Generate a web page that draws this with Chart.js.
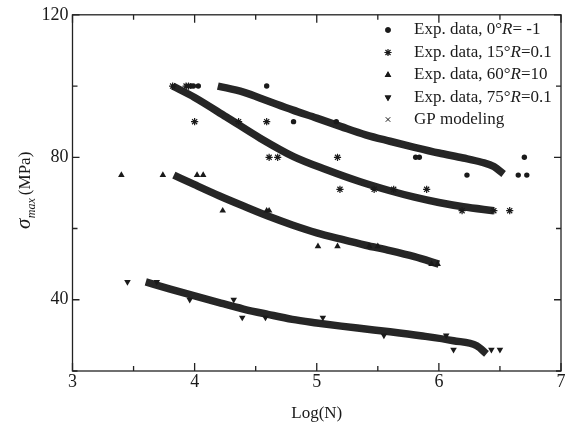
<!DOCTYPE html>
<html>
<head>
<meta charset="utf-8">
<script src="https://cdn.jsdelivr.net/npm/chart.js@4.4.0/dist/chart.umd.min.js"></script>
<style>
  html, body { margin: 0; padding: 0; background: #fff; }
</style>
</head>
<body>
<canvas id="fatigue" width="568" height="431"></canvas>
<script>
const exp0X = [3.97, 3.99, 4.03, 4.59, 4.81, 5.16, 5.81, 5.84, 6.23, 6.65, 6.70, 6.72];
const exp0Y = [100, 100, 100, 100, 90, 90, 80, 80, 75, 75, 80, 75];
const exp15X = [3.82, 3.93, 3.95, 4.00, 4.36, 4.59, 4.61, 4.68, 5.17, 5.19, 5.47, 5.63, 5.90, 6.19, 6.45, 6.58];
const exp15Y = [100, 100, 100, 90, 90, 90, 80, 80, 80, 71, 71, 71, 71, 65, 65, 65];
const exp60X = [3.40, 3.74, 4.02, 4.07, 4.23, 4.59, 4.61, 5.01, 5.17, 5.43, 5.50, 5.94, 5.99];
const exp60Y = [75, 75, 75, 75, 65, 65, 65, 55, 55, 55, 55, 50, 50];
const exp75X = [3.45, 3.69, 3.96, 4.32, 4.39, 4.58, 5.05, 5.55, 6.06, 6.12, 6.43, 6.50];
const exp75Y = [45, 45, 40, 40, 35, 35, 35, 30, 30, 26, 26, 26];

// GP modeling curves
const gp0X = [4.19, 4.4, 4.6, 4.8, 5.0, 5.2, 5.4, 5.6, 5.8, 6.0, 6.2, 6.35, 6.45, 6.53];
const gp0Y = [100, 98.3, 95.8, 93.3, 91, 88.6, 86.3, 84.5, 82.8, 81.2, 79.8, 78.6, 77.4, 75.3];
const gp15X = [3.82, 4.0, 4.26, 4.54, 4.81, 5.08, 5.35, 5.6, 5.8, 6.0, 6.2, 6.45];
const gp15Y = [100, 96.8, 91.3, 85.3, 80.2, 76.5, 73.2, 70.6, 68.8, 67.3, 66.1, 65];
const gp60X = [3.83, 4.0, 4.2, 4.4, 4.6, 4.8, 5.0, 5.2, 5.4, 5.6, 5.8, 6.0];
const gp60Y = [75, 72.3, 69.2, 66.3, 63.5, 61, 58.8, 57, 55.3, 53.8, 52.1, 50];
const gp75X = [3.6, 3.8, 4.0, 4.2, 4.4, 4.6, 4.8, 5.0, 5.2, 5.4, 5.6, 5.85, 6.12, 6.31, 6.39];
const gp75Y = [45, 43, 41.1, 39.2, 37.4, 35.9, 34.5, 33.5, 32.6, 31.8, 31, 29.9, 28.5, 27.1, 24.8];

const legendLabels = ['Exp. data, 0°R= -1', 'Exp. data, 15°R=0.1', 'Exp. data, 60°R=10', 'Exp. data, 75°R=0.1', 'GP modeling'];
const xTickLabels = [3, 4, 5, 6, 7];
const yTickLabels = [40, 80, 120];

const serif = '"Liberation Serif", "Times New Roman", serif';
const ink = '#1a1a1a';

function pts(xs, ys) {
    return xs.map((x, i) => ({ x: x, y: ys[i] }));
}

function expSet(label, xs, ys, style, rot, r) {
    return {
        label: label,
        data: pts(xs, ys),
        showLine: false,
        pointStyle: style,
        pointRotation: rot,
        pointRadius: r,
        backgroundColor: ink,
        borderColor: ink,
        borderWidth: style === 'star' ? 1.2 : 0
    };
}

function gpSet(xs, ys) {
    return {
        label: 'GP modeling',
        data: pts(xs, ys),
        showLine: true,
        borderColor: '#262626',
        borderWidth: 7.5,
        pointRadius: 0,
        cubicInterpolationMode: 'monotone',
        fill: false
    };
}

const legendMarks = [
    { pointStyle: 'circle', radius: 2.7, rotation: 0, borderWidth: 0 },
    { pointStyle: 'star', radius: 3.6, rotation: 0, borderWidth: 1.2 },
    { pointStyle: 'triangle', radius: 3.8, rotation: 0, borderWidth: 0 },
    { pointStyle: 'triangle', radius: 3.8, rotation: 180, borderWidth: 0 },
    { pointStyle: 'crossRot', radius: 3.2, rotation: 0, borderWidth: 1 }
];

const framePlugin = {
    id: 'frame',
    afterDraw(chart) {
        const ctx = chart.ctx;
        const a = chart.chartArea;
        const xs = chart.scales.x, ys = chart.scales.y;
        ctx.save();
        ctx.strokeStyle = '#222';
        ctx.lineWidth = 1.3;
        ctx.strokeRect(a.left, a.top, a.right - a.left, a.bottom - a.top);
        ctx.beginPath();
        xs.ticks.forEach(t => {
            const px = xs.getPixelForValue(t.value);
            const len = xTickLabels.includes(t.value) ? 8 : 5;
            ctx.moveTo(px, a.bottom); ctx.lineTo(px, a.bottom - len);
            ctx.moveTo(px, a.top); ctx.lineTo(px, a.top + len);
        });
        ys.ticks.forEach(t => {
            const py = ys.getPixelForValue(t.value);
            const len = yTickLabels.includes(t.value) ? 7 : 5;
            ctx.moveTo(a.left, py); ctx.lineTo(a.left + len, py);
            ctx.moveTo(a.right, py); ctx.lineTo(a.right - len, py);
        });
        ctx.stroke();

        // axis titles
        ctx.fillStyle = ink;
        ctx.textBaseline = 'alphabetic';
        ctx.textAlign = 'center';
        ctx.font = '17px ' + serif;
        ctx.fillText('Log(N)', (a.left + a.right) / 2, 418);

        ctx.save();
        ctx.translate(30, 229);
        ctx.rotate(-Math.PI / 2);
        ctx.textAlign = 'left';
        let cx = 0;
        ctx.font = 'italic 21px ' + serif;
        ctx.fillText('σ', cx, 0);
        cx += ctx.measureText('σ').width + 0.5;
        ctx.font = 'italic 12px ' + serif;
        ctx.fillText('max', cx, 5);
        cx += ctx.measureText('max').width + 3;
        ctx.font = '17px ' + serif;
        ctx.fillText('(MPa)', cx, 0);
        ctx.restore();

        // legend
        const rowY = [30, 52.5, 75, 97.5, 119.5];
        legendLabels.forEach((lab, i) => {
            const m = legendMarks[i];
            ctx.fillStyle = ink;
            ctx.strokeStyle = ink;
            ctx.lineWidth = m.borderWidth;
            Chart.helpers.drawPoint(ctx, {
                pointStyle: m.pointStyle, radius: m.radius, rotation: m.rotation, borderWidth: m.borderWidth
            }, 388, rowY[i]);
            ctx.fill();
            ctx.textAlign = 'left';
            ctx.textBaseline = 'middle';
            let tx = 414;
            const parts = lab.indexOf('°R') >= 0 ? lab.split('°R') : [lab];
            ctx.font = '17px ' + serif;
            if (parts.length === 2) {
                ctx.fillText(parts[0] + '°', tx, rowY[i]);
                tx += ctx.measureText(parts[0] + '°').width;
                ctx.font = 'italic 17px ' + serif;
                ctx.fillText('R', tx, rowY[i]);
                tx += ctx.measureText('R').width;
                ctx.font = '17px ' + serif;
                ctx.fillText(parts[1], tx, rowY[i]);
            } else {
                ctx.fillText(lab, tx, rowY[i]);
            }
        });
        ctx.restore();
    }
};

const ctx = document.getElementById('fatigue').getContext('2d');
new Chart(ctx, {
    type: 'scatter',
    data: {
        datasets: [
            expSet(legendLabels[0], exp0X, exp0Y, 'circle', 0, 2.7),
            expSet(legendLabels[1], exp15X, exp15Y, 'star', 0, 3.6),
            expSet(legendLabels[2], exp60X, exp60Y, 'triangle', 0, 3.8),
            expSet(legendLabels[3], exp75X, exp75Y, 'triangle', 180, 3.8),
            gpSet(gp0X, gp0Y),
            gpSet(gp15X, gp15Y),
            gpSet(gp60X, gp60Y),
            gpSet(gp75X, gp75Y)
        ]
    },
    options: {
        responsive: false,
        animation: false,
        devicePixelRatio: 1,
        layout: { padding: { left: 0, right: 7, top: 14, bottom: 0 } },
        plugins: { legend: { display: false }, tooltip: { enabled: false } },
        scales: {
            x: {
                type: 'linear',
                min: 3, max: 7,
                grid: { display: false, drawTicks: false },
                border: { display: false },
                ticks: {
                    stepSize: 0.5,
                    padding: 0,
                    color: ink,
                    font: { family: serif, size: 18 },
                    callback: v => xTickLabels.includes(v) ? String(v) : ''
                },
                afterFit(s) { s.height = 60; }
            },
            y: {
                min: 20, max: 120,
                grid: { display: false, drawTicks: false },
                border: { display: false },
                ticks: {
                    stepSize: 20,
                    padding: 4,
                    color: ink,
                    font: { family: serif, size: 18 },
                    callback: v => yTickLabels.includes(v) ? String(v) : ''
                },
                afterFit(s) { s.width = 72.5; }
            }
        }
    },
    plugins: [framePlugin]
});
</script>
</body>
</html>
